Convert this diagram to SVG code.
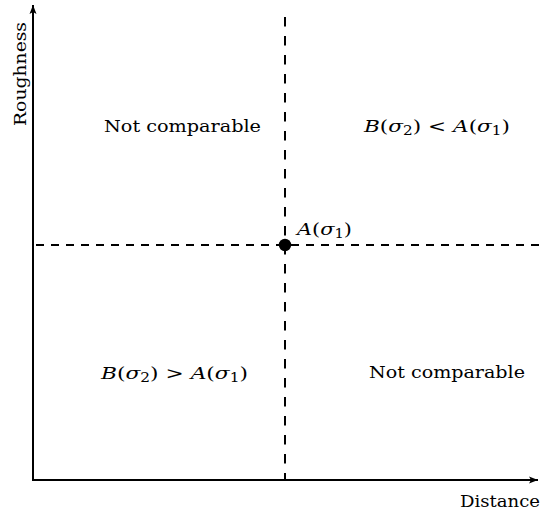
<svg xmlns="http://www.w3.org/2000/svg" width="545" height="517" viewBox="0 0 545 517">
<defs>
<style>
text{font-family:"DejaVu Serif","Liberation Serif",serif;font-size:16px;fill:#000}
.m{font-size:17px}
.it{font-style:italic}
.sub{font-size:12px;font-style:normal}
.axis{stroke:#000;stroke-width:2;fill:none}
.dash{stroke:#000;stroke-width:2;fill:none}
</style>
<marker id="arr" markerWidth="10" markerHeight="8" refX="9" refY="4" orient="auto" markerUnits="userSpaceOnUse">
<path d="M0,0.5 L9,4 L0,7.5 L2,4 Z" fill="#000"/>
</marker>
</defs>
<rect width="545" height="517" fill="#fff"/>
<g id="connectors">
<line class="axis" x1="33" y1="481" x2="33" y2="5" marker-end="url(#arr)"/>
<line class="axis" x1="32" y1="480" x2="538" y2="480" marker-end="url(#arr)"/>
<line class="dash" x1="285" y1="17" x2="285" y2="480" stroke-dasharray="9.5 9.5"/>
<line class="dash" x1="36" y1="245" x2="540" y2="245" stroke-dasharray="8 7"/>
</g>
<g id="point-A">
<circle cx="285" cy="245" r="6.2" fill="#000"/>
<text class="m" x="297" y="235" textLength="55" lengthAdjust="spacingAndGlyphs"><tspan class="it">A</tspan>(<tspan class="it">σ</tspan><tspan class="sub" dy="3">1</tspan><tspan dy="-3">)</tspan></text>
</g>
<g id="q-top-left">
<text x="104" y="132" textLength="157" lengthAdjust="spacingAndGlyphs">Not comparable</text>
</g>
<g id="q-top-right">
<text class="m" x="364" y="132" textLength="146" lengthAdjust="spacingAndGlyphs"><tspan class="it">B</tspan>(<tspan class="it">σ</tspan><tspan class="sub" dy="3">2</tspan><tspan dy="-3">) &lt; </tspan><tspan class="it">A</tspan>(<tspan class="it">σ</tspan><tspan class="sub" dy="3">1</tspan><tspan dy="-3">)</tspan></text>
</g>
<g id="q-bottom-left">
<text class="m" x="101" y="379" textLength="147" lengthAdjust="spacingAndGlyphs"><tspan class="it">B</tspan>(<tspan class="it">σ</tspan><tspan class="sub" dy="3">2</tspan><tspan dy="-3">) &gt; </tspan><tspan class="it">A</tspan>(<tspan class="it">σ</tspan><tspan class="sub" dy="3">1</tspan><tspan dy="-3">)</tspan></text>
</g>
<g id="q-bottom-right">
<text x="369" y="378" textLength="156" lengthAdjust="spacingAndGlyphs">Not comparable</text>
</g>
<g id="label-x">
<text x="460" y="507" textLength="80" lengthAdjust="spacingAndGlyphs">Distance</text>
</g>
<g id="label-y">
<text transform="translate(26,126) rotate(-90)" textLength="104" lengthAdjust="spacingAndGlyphs">Roughness</text>
</g>
</svg>
